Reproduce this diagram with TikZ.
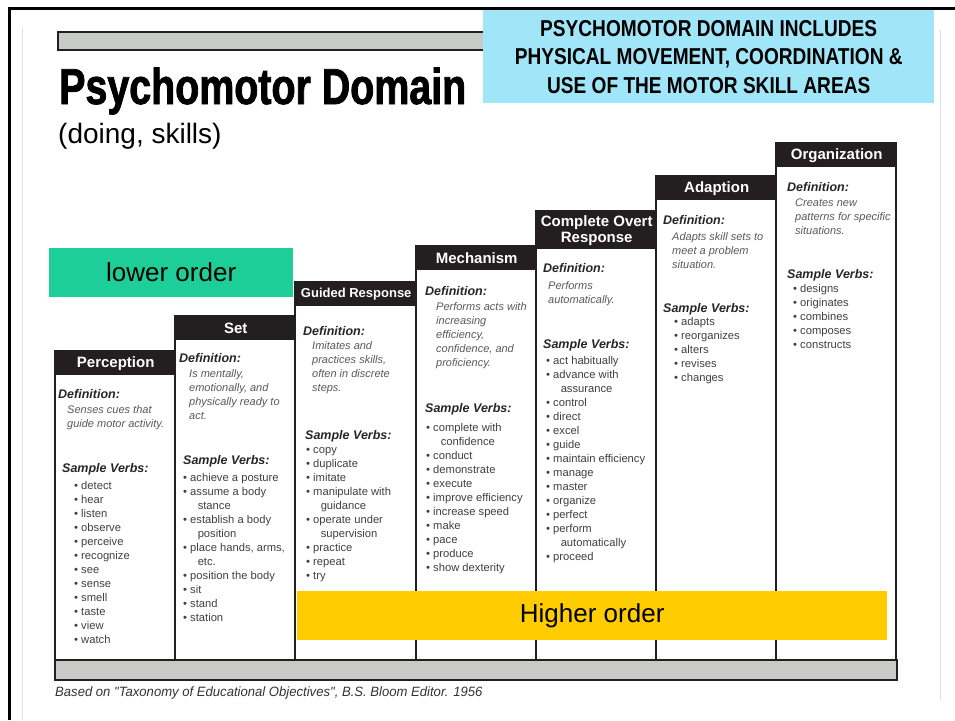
\documentclass[tikz,border=0pt]{standalone}
\usepackage{fontspec}
\setmainfont{Liberation Sans}
\newfontfamily\titlefont[FakeStretch=0.78,FakeBold=1.6]{Liberation Sans Bold}
\newfontfamily\narrowfont[FakeStretch=0.83]{Liberation Sans}
\newfontfamily\srcfont[FakeStretch=0.97]{Liberation Sans}
\usetikzlibrary{positioning}

\definecolor{stepblack}{RGB}{35,31,32}
\definecolor{bargrey}{RGB}{200,202,200}
\definecolor{noteblue}{RGB}{160,230,248}
\definecolor{lowgreen}{RGB}{29,206,152}
\definecolor{highyellow}{RGB}{255,204,0}

\newcommand{\bul}{\textbullet\ }
\newcommand{\cont}{\hspace*{1.3em}}

\tikzset{
  stepbox/.style={draw=stepblack, line width=1.4pt, fill=white},
  greybar/.style={draw=stepblack, line width=1.4pt, fill=bargrey},
  stephead/.style={draw=stepblack, line width=1.4pt, fill=stepblack, text=white,
    anchor=north west, minimum width=120pt, minimum height=23pt, inner sep=0pt,
    align=center, font=\fontsize{15}{16}\selectfont\bfseries},
  deflabel/.style={anchor=north west, inner sep=0pt, text=black!85,
    font=\fontsize{12.5}{14}\selectfont\bfseries\itshape, execute at begin node=\strut},
  deftext/.style={anchor=north west, inner sep=0pt, align=left, text=black!65,
    font=\fontsize{11}{14}\selectfont\itshape, execute at begin node=\strut},
  verblist/.style={anchor=north west, inner sep=0pt, align=left, text=black!75,
    font=\fontsize{11.2}{14}\selectfont, execute at begin node=\strut},
  orderbox/.style={anchor=north west, inner sep=0pt, minimum height=49pt,
    font=\fontsize{26}{30}\selectfont}
}

\begin{document}
\begin{tikzpicture}[x=1pt, y=-1pt]
	\useasboundingbox (0,0) rectangle (955,720);
	% page frame
	\draw [gray!25, line width=1pt] (22,28) -- (22,720);
	\draw [gray!25, line width=1pt] (940,30) -- (940,700);
	\draw [line width=3pt] (9,720) -- (9,8) -- (955,8);

	% heading
	\draw [greybar] (58,32) rectangle (897,50);
	\node [anchor=base west, inner sep=0pt] (title) at (59,104) {\titlefont\fontsize{50.5}{50}\selectfont Psychomotor Domain};
	\node [anchor=base west, inner sep=0pt, font=\fontsize{28}{30}\selectfont] (subtitle) at (58,143) {(doing, skills)};
	\node [fill=noteblue, anchor=north west, minimum width=451pt, minimum height=93pt, inner sep=0pt, align=center,
	  font=\narrowfont\bfseries\fontsize{23}{28.5}\selectfont] (note) at (483,10)
	  {PSYCHOMOTOR DOMAIN INCLUDES\\PHYSICAL MOVEMENT, COORDINATION \&\\USE OF THE MOTOR SKILL AREAS};

	% Perception
	\draw [stepbox] (55,351) rectangle (175,660);
	\node [stephead] (hperc) at (55,351) {Perception};
	\node [deflabel] (percdef) at (58,388) {Definition:};
	\node [deftext] (perctxt) at (67,405) {Senses cues that\\guide motor activity.};
	\node [deflabel] (percsv) at (62,462) {Sample Verbs:};
	\node [verblist] (percverbs) at (74,481) {\bul detect\\\bul hear\\\bul listen\\\bul observe\\\bul perceive\\\bul recognize\\\bul see\\\bul sense\\\bul smell\\\bul taste\\\bul view\\\bul watch};

	% Set
	\draw [stepbox] (175,316) rectangle (295,660);
	\node [stephead] (hset) at (175,316) {Set};
	\node [deflabel] (setdef) at (179,352) {Definition:};
	\node [deftext] (settxt) at (189,369) {Is mentally,\\emotionally, and\\physically ready to\\act.};
	\node [deflabel] (setsv) at (183,454) {Sample Verbs:};
	\node [verblist] (setverbs) at (183,473) {\bul achieve a posture\\\bul assume a body\\\cont stance\\\bul establish a body\\\cont position\\\bul place hands, arms,\\\cont etc.\\\bul position the body\\\bul sit\\\bul stand\\\bul station};

	% Guided Response
	\draw [stepbox] (295,282) rectangle (416,660);
	\node [stephead, minimum width=121pt, font=\fontsize{13}{15}\selectfont\bfseries] (hguid) at (295,282) {Guided Response};
	\node [deflabel] (guiddef) at (303,325) {Definition:};
	\node [deftext] (guidtxt) at (312,341) {Imitates and\\practices skills,\\often in discrete\\steps.};
	\node [deflabel] (guidsv) at (305,429) {Sample Verbs:};
	\node [verblist] (guidverbs) at (306,447) {\bul copy\\\bul duplicate\\\bul imitate\\\bul manipulate with\\\cont guidance\\\bul operate under\\\cont supervision\\\bul practice\\\bul repeat\\\bul try};

	% Mechanism
	\draw [stepbox] (416,246) rectangle (536,660);
	\node [stephead] (hmech) at (416,246) {Mechanism};
	\node [deflabel] (mechdef) at (425,285) {Definition:};
	\node [deftext] (mechtxt) at (436,302) {Performs acts with\\increasing\\efficiency,\\confidence, and\\proficiency.};
	\node [deflabel] (mechsv) at (425,402) {Sample Verbs:};
	\node [verblist] (mechverbs) at (426,423) {\bul complete with\\\cont confidence\\\bul conduct\\\bul demonstrate\\\bul execute\\\bul improve efficiency\\\bul increase speed\\\bul make\\\bul pace\\\bul produce\\\bul show dexterity};

	% Complete Overt Response
	\draw [stepbox] (536,211) rectangle (656,660);
	\node [stephead, minimum height=37pt] (hcomp) at (536,211) {Complete Overt\\Response};
	\node [deflabel] (compdef) at (543,262) {Definition:};
	\node [deftext] (comptxt) at (548,281) {Performs\\automatically.};
	\node [deflabel] (compsv) at (543,338) {Sample Verbs:};
	\node [verblist] (compverbs) at (546,356) {\bul act habitually\\\bul advance with\\\cont assurance\\\bul control\\\bul direct\\\bul excel\\\bul guide\\\bul maintain efficiency\\\bul manage\\\bul master\\\bul organize\\\bul perfect\\\bul perform\\\cont automatically\\\bul proceed};

	% Adaption
	\draw [stepbox] (656,176) rectangle (776,660);
	\node [stephead] (hadap) at (656,176) {Adaption};
	\node [deflabel] (adapdef) at (663,214) {Definition:};
	\node [deftext] (adaptxt) at (672,232) {Adapts skill sets to\\meet a problem\\situation.};
	\node [deflabel] (adapsv) at (663,302) {Sample Verbs:};
	\node [verblist] (adapverbs) at (674,317) {\bul adapts\\\bul reorganizes\\\bul alters\\\bul revises\\\bul changes};

	% Organization
	\draw [stepbox] (776,143) rectangle (896,660);
	\node [stephead] (horg) at (776,143) {Organization};
	\node [deflabel] (orgdef) at (787,181) {Definition:};
	\node [deftext] (orgtxt) at (795,199) {Creates new\\patterns for specific\\situations.};
	\node [deflabel] (orgsv) at (787,268) {Sample Verbs:};
	\node [verblist] (orgverbs) at (793,284) {\bul designs\\\bul originates\\\bul combines\\\bul composes\\\bul constructs};

	% base and source
	\draw [greybar] (55,660) rectangle (897,680);
	\node [anchor=base west, inner sep=0pt, text=black!80, font=\srcfont\itshape\fontsize{13.5}{15}\selectfont] (source) at (55,696)
	  {Based on "Taxonomy of Educational Objectives", B.S. Bloom Editor. 1956};

	% order labels
	\node [orderbox, fill=lowgreen, minimum width=244pt] (lower) at (49,248) {lower order};
	\node [orderbox, fill=highyellow, minimum width=590pt] (higher) at (297,591) {Higher order};
\end{tikzpicture}
\end{document}
